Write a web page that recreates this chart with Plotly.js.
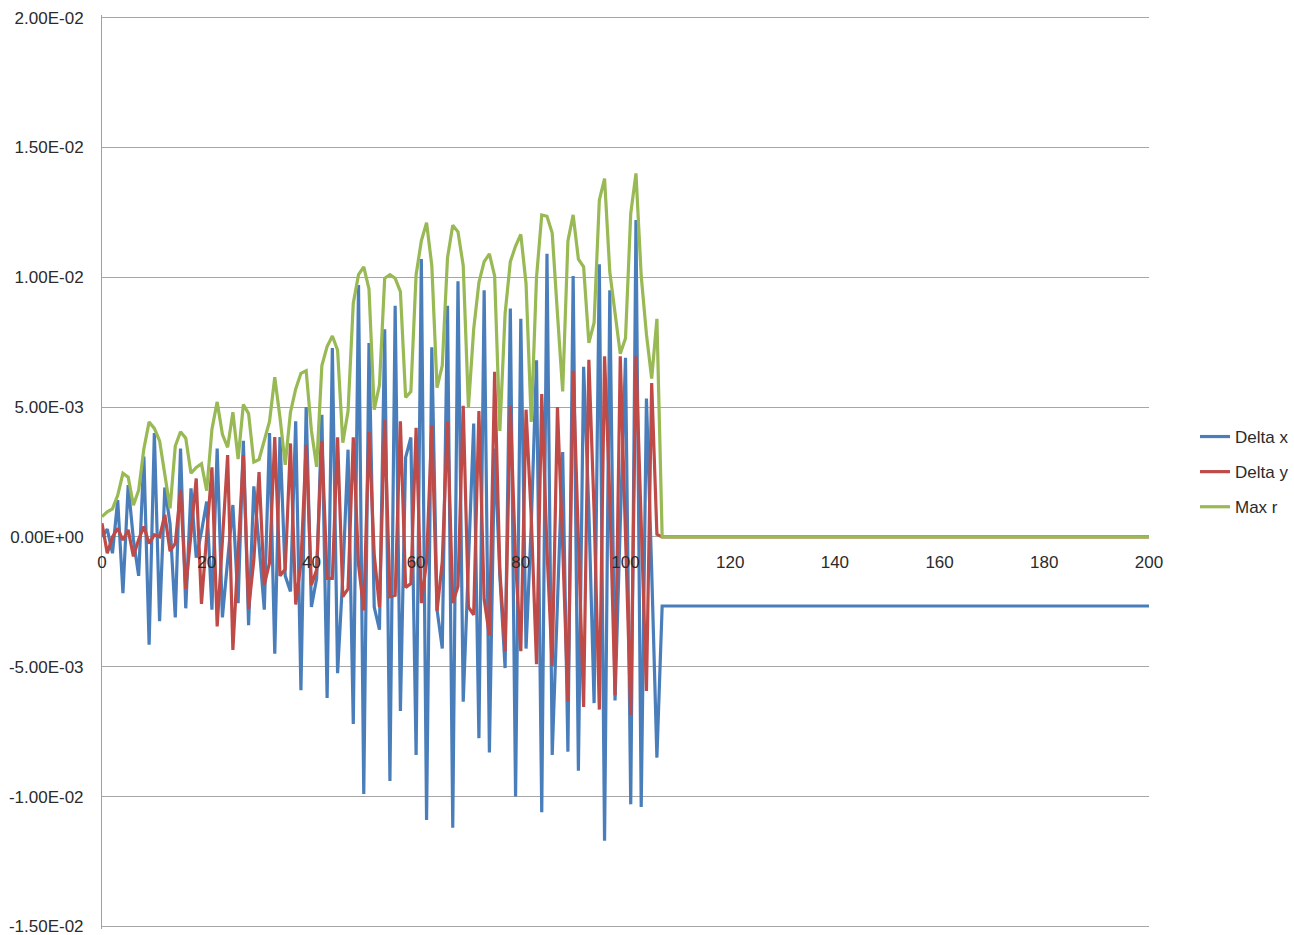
<!DOCTYPE html>
<html>
<head>
<meta charset="utf-8">
<script src="https://cdn.plot.ly/plotly-3.0.1.min.js"></script>
<style>
  html, body { margin: 0; padding: 0; background: #ffffff; }
  #chart { width: 1294px; height: 935px; }
</style>
</head>
<body>
<div id="chart"></div>
<script>
// Sample index (0..107, then the flat tail end at 200)
const sampleX = [
  0,1,2,3,4,5,6,7,8,9,10,11,12,13,14,15,16,17,18,19,
  20,21,22,23,24,25,26,27,28,29,30,31,32,33,34,35,36,37,38,39,
  40,41,42,43,44,45,46,47,48,49,50,51,52,53,54,55,56,57,58,59,
  60,61,62,63,64,65,66,67,68,69,70,71,72,73,74,75,76,77,78,79,
  80,81,82,83,84,85,86,87,88,89,90,91,92,93,94,95,96,97,98,99,
  100,101,102,103,104,105,106,107,200
];

// Values in units of 1E-03
const deltaX = [
  0.0, 0.3, -0.63, 1.42, -2.17, 2.0, -0.1, -1.5, 3.1, -4.15,
  4.0, -3.25, 1.9, 0.5, -3.1, 3.4, -2.75, 1.87, -0.8, 0.2,
  1.36, -2.8, 3.4, -3.1, -0.9, 1.23, -2.55, 3.7, -3.4, 1.95,
  -0.3, -2.8, 4.0, -4.5, 3.85, -1.5, -2.1, 4.45, -5.9, 5.0,
  -2.7, -1.6, 4.7, -6.2, 7.27, -5.25, -1.5, 3.36, -7.2, 9.7,
  -9.9, 7.47, -2.7, -3.57, 8.0, -9.4, 8.9, -6.7, 3.06, 3.83,
  -8.4, 10.7, -10.9, 7.3, -2.8, -4.3, 8.9, -11.2, 9.85, -6.35,
  -1.0, 4.37, -7.75, 9.5, -8.3, 3.4, -1.5, -5.05, 8.8, -10.0,
  8.4, -4.3, 0.5, 6.8, -10.6, 10.9, -8.4, -2.5, 3.27, -8.27,
  10.05, -9.0, 6.55, 1.0, -6.4, 10.5, -11.7, 9.5, -6.3, 0.5,
  6.9, -10.3, 12.2, -10.4, 5.33, -1.3, -8.5, -2.66, -2.66
];

const deltaY = [
  0.53, -0.63, 0.0, 0.33, -0.12, 0.27, -0.75, -0.1, 0.4, -0.25,
  0.08, 0.0, 0.85, -0.55, -0.25, 1.8, -2.0, 0.1, 2.25, -2.58,
  0.0, 2.68, -3.45, -0.1, 3.15, -4.35, -0.4, 3.15, -2.78, -0.9,
  2.5, -1.85, -1.0, 3.85, -1.5, -1.25, 3.6, -2.6, -1.0, 3.55,
  -1.85, -1.27, 3.7, -1.6, -1.6, 3.84, -2.3, -2.0, 3.84, -1.07,
  -2.83, 4.04, -0.67, -2.7, 4.5, -2.3, -2.25, 4.45, -1.95, -1.8,
  4.2, -2.55, -0.95, 4.3, -2.85, -0.94, 4.45, -2.55, -1.9, 5.05,
  -2.7, -3.0, 4.85, -2.4, -3.8, 6.36, -1.3, -4.4, 5.05, -0.95,
  -4.4, 4.9, 0.75, -4.9, 5.5, -0.5, -4.97, 5.0, -0.35, -6.35,
  6.4, 0.0, -6.55, 6.82, 1.0, -6.65, 6.96, 1.5, -6.1, 6.96,
  0.3, -6.87, 6.96, 0.2, -5.93, 5.93, 0.1, 0.0, 0.0
];

const maxR = [
  0.78, 0.97, 1.08, 1.6, 2.45, 2.3, 1.22, 1.8, 3.4, 4.43,
  4.18, 3.7, 2.4, 1.1, 3.5, 4.05, 3.8, 2.45, 2.68, 2.82,
  1.78, 4.15, 5.2, 3.95, 3.45, 4.8, 3.0, 5.1, 4.75, 2.88,
  2.98, 3.75, 4.45, 6.15, 4.6, 2.78, 4.8, 5.7, 6.3, 6.4,
  4.1, 2.7, 6.6, 7.33, 7.74, 7.2, 3.63, 4.85, 9.0, 10.1,
  10.4, 9.55, 4.9, 5.85, 9.96, 10.1, 9.96, 9.45, 5.37, 5.6,
  10.1, 11.4, 12.1, 10.45, 5.75, 6.6, 10.75, 12.0, 11.75, 10.45,
  5.0, 8.0, 9.8, 10.6, 10.9, 10.05, 4.08, 8.6, 10.6, 11.2,
  11.65, 9.76, 4.43, 10.0, 12.4, 12.35, 11.7, 8.6, 5.6, 11.4,
  12.4, 10.7, 10.4, 7.47, 8.25, 12.97, 13.8, 10.2, 8.7, 7.05,
  7.65, 12.45, 14.0, 10.05, 7.8, 6.1, 8.4, 0.0, 0.0
];

const seriesNames = ["Delta x", "Delta y", "Max r"];
const seriesColors = ["#4A7EBB", "#BE4B48", "#98B954"];

const xTickVals = [0, 20, 40, 60, 80, 100, 120, 140, 160, 180, 200];
const xTickText = ["0", "20", "40", "60", "80", "100", "120", "140", "160", "180", "200"];
const yTickVals = [-15, -10, -5, 0, 5, 10, 15, 20];
const yTickText = ["-1.50E-02", "-1.00E-02", "-5.00E-03", "0.00E+00", "5.00E-03", "1.00E-02", "1.50E-02", "2.00E-02"];

const FONT = '"Liberation Sans", Arial, sans-serif';
const seriesData = [deltaX, deltaY, maxR];

const traces = seriesData.map((vals, i) => ({
  type: 'scatter',
  mode: 'lines',
  x: sampleX,
  y: vals,
  name: seriesNames[i],
  legendgroup: 'g' + i,
  line: { color: seriesColors[i], width: 3.2 },
  hoverinfo: 'skip'
}));

// range padded slightly so the end gridlines at -15 and 20 are drawn
const yMin = -15.1, yMax = 20.1;
const layout = {
  width: 1294,
  height: 935,
  margin: { l: 102, r: 145, t: 15, b: 6 },
  paper_bgcolor: '#ffffff',
  plot_bgcolor: '#ffffff',
  font: { family: FONT, size: 17, color: '#2b2b2b' },
  showlegend: true,
  legend: {
    xref: 'container', yref: 'container',
    x: 0.9235, xanchor: 'left',
    y: 0.4952, yanchor: 'middle',
    font: { family: FONT, size: 17, color: '#2b2b2b' },
    tracegroupgap: 10,
    bgcolor: 'rgba(0,0,0,0)'
  },
  xaxis: {
    range: [0, 200],
    anchor: 'free',
    position: (0 - yMin) / (yMax - yMin),
    tickmode: 'array',
    tickvals: xTickVals,
    ticktext: xTickText,
    showgrid: false,
    zeroline: false,
    showline: false,
    layer: 'above traces',
    ticks: '',
    ticklabelstandoff: 13,
    tickfont: { family: FONT, size: 17, color: '#2b2b2b' },
    fixedrange: true
  },
  yaxis: {
    range: [yMin, yMax],
    tickmode: 'array',
    tickvals: yTickVals,
    ticktext: yTickText,
    showgrid: true,
    gridcolor: '#a6a6a6',
    gridwidth: 1,
    zeroline: false,
    showline: true,
    linecolor: '#a0a0a0',
    linewidth: 1,
    layer: 'below traces',
    ticks: '',
    ticklabelstandoff: 14,
    ticklabeloverflow: 'allow',
    tickfont: { family: FONT, size: 17, color: '#2b2b2b' },
    fixedrange: true
  }
};

Plotly.newPlot('chart', traces, layout, { staticPlot: true, displayModeBar: false });
</script>
</body>
</html>
